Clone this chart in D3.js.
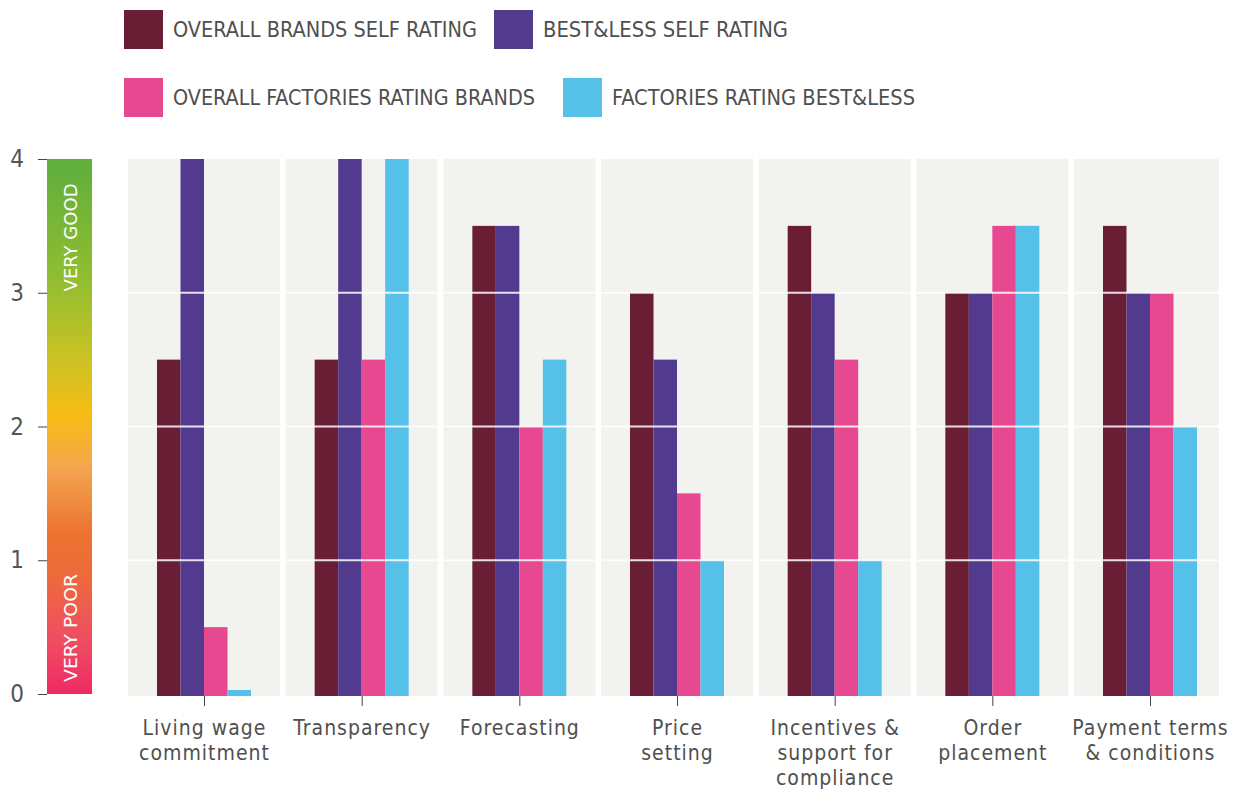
<!DOCTYPE html>
<html lang="en">
<head>
    <meta charset="UTF-8">
    <title>Ratings chart</title>
    <style>
        body { margin: 0; background: #fff; }
        text { font-family: "Liberation Sans Narrow", "DejaVu Sans Condensed", "DejaVu Sans", sans-serif; fill: #4f4f4f; }
        .axis path { display: none; }
        .axis line { stroke: #444; }
    </style>
</head>
<body>
  <div id="sv"></div>
  <script src="https://d3js.org/d3.v7.min.js"></script>
  <script>
    // data
    var categories = ["Living wage\ncommitment", "Transparency", "Forecasting", "Price\nsetting",
                      "Incentives &\nsupport for\ncompliance", "Order\nplacement", "Payment terms\n& conditions"];
    var series = ["OVERALL BRANDS SELF RATING", "BEST&LESS SELF RATING",
                  "OVERALL FACTORIES RATING BRANDS", "FACTORIES RATING BEST&LESS"];
    var brandsSelf     = [2.5, 2.5, 3.5, 3,   3.5, 3,   3.5];
    var bestlessSelf   = [4,   4,   3.5, 2.5, 3,   3,   3];
    var factoriesBrands = [0.5, 2.5, 2,   1.5, 2.5, 3.5, 3];
    var factoriesBL    = [0.03, 4,  2.5, 1,   1,   3.5, 2];
    var yTicks = [0, 1, 2, 3, 4];
    var scaleLabels = ["VERY GOOD", "VERY POOR"];

    var colors = ["#6a1e36", "#523b8e", "#e6498f", "#55c1e9"];
    var values = [brandsSelf, bestlessSelf, factoriesBrands, factoriesBL];

    var W = 1239, H = 794;
    var svg = d3.select("#sv").append("svg")
        .attr("width", W).attr("height", H);

    // scales
    var y = d3.scaleLinear().domain([0, 4]).range([694, 159]);
    var x0 = d3.scalePoint().domain(categories).range([204, 1150]);
    var x1 = d3.scaleBand().domain(series).range([-47, 47]);
    var color = d3.scaleOrdinal().domain(series).range(colors);

    // panels behind each category
    svg.append("g").selectAll("rect").data(categories).join("rect")
        .attr("x", d => x0(d) - 76)
        .attr("width", d => Math.min(152, 1219 - (x0(d) - 76)))
        .attr("y", y(4))
        .attr("height", y(0) - y(4) + 2)
        .attr("fill", "#f2f2ef");

    // bars
    var groups = svg.append("g").selectAll("g").data(categories).join("g")
        .attr("transform", d => `translate(${x0(d)},0)`);
    groups.selectAll("rect")
        .data((d, i) => series.map((s, j) => ({s: s, v: values[j][i]})))
        .join("rect")
        .attr("x", d => x1(d.s))
        .attr("width", x1.bandwidth())
        .attr("y", d => y(d.v))
        .attr("height", d => y(0) - y(d.v) + 2)
        .attr("fill", d => color(d.s));

    // white grid lines over the bars
    svg.append("g").selectAll("line").data([1, 2, 3]).join("line")
        .attr("x1", 128).attr("x2", 1219)
        .attr("y1", d => y(d)).attr("y2", d => y(d))
        .attr("stroke", "#fff").attr("stroke-width", 2).attr("opacity", 0.85);

    // gradient scale bar
    var grad = svg.append("defs").append("linearGradient")
        .attr("id", "rate").attr("x1", 0).attr("y1", 0).attr("x2", 0).attr("y2", 1);
    [[0, "#5fae3e"], [0.22, "#8fbd31"], [0.38, "#cdc223"], [0.48, "#f8bd14"],
     [0.58, "#f3a450"], [0.7, "#ec7330"], [0.78, "#ee6a3c"], [0.9, "#ef4d62"], [1, "#ee2a64"]]
        .forEach(s => grad.append("stop").attr("offset", s[0]).attr("stop-color", s[1]));
    svg.append("rect")
        .attr("x", 47).attr("width", 45)
        .attr("y", y(4)).attr("height", y(0) - y(4))
        .attr("fill", "url(#rate)");
    svg.append("text")
        .attr("transform", `translate(77,${y(3.01)}) rotate(-90)`)
        .attr("textLength", 108).attr("lengthAdjust", "spacingAndGlyphs")
        .style("font-size", "17px").style("fill", "#fff")
        .text(scaleLabels[0]);
    svg.append("text")
        .attr("transform", `translate(77,${y(0.09)}) rotate(-90)`)
        .attr("textLength", 108).attr("lengthAdjust", "spacingAndGlyphs")
        .style("font-size", "17px").style("fill", "#fff")
        .text(scaleLabels[1]);

    // y axis
    var ya = svg.append("g").attr("class", "axis")
        .attr("transform", "translate(47,0)")
        .call(d3.axisLeft(y).tickValues(yTicks).tickFormat(d3.format("d")).tickSize(9).tickPadding(14));
    ya.selectAll("text").style("font-size", "24px").style("fill", "#555");
    ya.selectAll("line").attr("stroke", "#555");

    // x axis
    var xa = svg.append("g").attr("class", "axis")
        .attr("transform", "translate(0,696)")
        .call(d3.axisBottom(x0).tickSize(10).tickFormat(""));
    xa.selectAll(".tick").each(function(d) {
        var t = d3.select(this).append("text")
            .attr("text-anchor", "middle")
            .style("font-size", "21px")
            .style("letter-spacing", "1px");
        d.split("\n").forEach((line, i) => {
            t.append("tspan").attr("x", 0).attr("y", 39 + i * 25).text(line);
        });
    });

    // legend
    var legendPos = [[124, 10], [494, 10], [124, 78], [563, 78]];
    var legendW = [304, 245, 362, 303];
    var lg = svg.append("g").selectAll("g").data(series).join("g")
        .attr("transform", (d, i) => `translate(${legendPos[i][0]},${legendPos[i][1]})`);
    lg.append("rect").attr("width", 39).attr("height", 39).attr("fill", d => color(d));
    lg.append("text")
        .attr("x", 49).attr("y", 27)
        .attr("textLength", (d, i) => legendW[i]).attr("lengthAdjust", "spacingAndGlyphs")
        .style("font-size", "21px")
        .text(d => d);
  </script>
</body>
</html>
